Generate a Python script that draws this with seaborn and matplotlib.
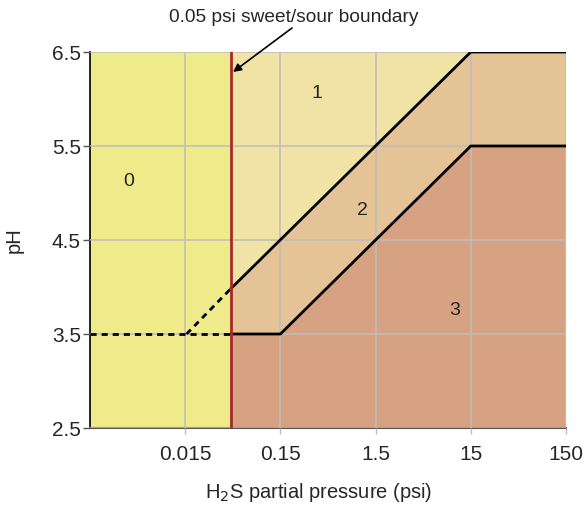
import numpy as np
import pandas as pd
import matplotlib
matplotlib.use("Agg")
import matplotlib.pyplot as plt
import seaborn as sns

# ---- data ----
x_ticks = [0.015, 0.15, 1.5, 15, 150]
x_tick_labels = ["0.015", "0.15", "1.5", "15", "150"]
y_ticks = [2.5, 3.5, 4.5, 5.5, 6.5]
x_min, x_max = 0.0015, 150
y_min, y_max = 2.5, 6.5
boundary_x = 0.045

upper_x = [0.045, 15, 150]
upper_y = [3.98, 6.5, 6.5]
lower_x = [0.045, 0.15, 15, 150]
lower_y = [3.5, 3.5, 5.5, 5.5]
dash_h_x = [0.0015, 0.045]
dash_h_y = [3.5, 3.5]
dash_d_x = [0.0155, 0.045]
dash_d_y = [3.5, 3.98]

region_labels = ["0", "1", "2", "3"]
region_label_x = [0.0038, 0.36, 1.1, 10.2]
region_label_y = [5.12, 6.06, 4.81, 3.75]
region_colors = ["#EFEA8A", "#F1E3A6", "#E4C496", "#D7A282"]

sns.set_style("white")
plt.rcParams["font.family"] = ["Liberation Sans", "DejaVu Sans"]

fig = plt.figure(figsize=(5.84, 5.05), dpi=100)
ax = fig.add_axes([90/584, 1-428/505, (566-90)/584, (428-52)/505])
ax.set_xscale("log")
ax.set_xlim(x_min, x_max)
ax.set_ylim(y_min, y_max)

# regions
ax.fill([x_min, boundary_x, boundary_x, x_min], [y_min, y_min, y_max, y_max],
        color=region_colors[0], lw=0, zorder=0)
ax.fill(upper_x + [x_max, boundary_x], upper_y + [y_max, y_max],
        color=region_colors[1], lw=0, zorder=0)
ax.fill(upper_x + lower_x[::-1], upper_y + lower_y[::-1],
        color=region_colors[2], lw=0, zorder=0)
ax.fill(lower_x + [x_max, boundary_x], lower_y + [y_min, y_min],
        color=region_colors[3], lw=0, zorder=0)

# grid
ax.set_xticks(x_ticks)
ax.set_xticklabels(x_tick_labels)
ax.xaxis.set_minor_locator(matplotlib.ticker.NullLocator())
ax.set_yticks(y_ticks)
ax.set_yticklabels([f"{v:.1f}" for v in y_ticks])
ax.grid(True, color="#BDBDBD", lw=1.1, zorder=1)
ax.set_axisbelow(False)

# lines
sns.lineplot(x=upper_x, y=upper_y, ax=ax, color="black", lw=2, zorder=3, sort=False)
sns.lineplot(x=lower_x, y=lower_y, ax=ax, color="black", lw=2, zorder=3, sort=False)
sns.lineplot(x=dash_h_x, y=dash_h_y, ax=ax, color="black", lw=2, zorder=3,
             linestyle=(0, (2.2, 1.8)), sort=False)
sns.lineplot(x=dash_d_x, y=dash_d_y, ax=ax, color="black", lw=2, zorder=3,
             linestyle=(0, (2.2, 1.8)), sort=False)
ax.axvline(boundary_x, color="#A52A2A", lw=2, zorder=4)

for lab, lx, ly in zip(region_labels, region_label_x, region_label_y):
    ax.text(lx, ly, lab, fontsize=14, ha="center", va="center", zorder=5)

fig.text(294/584, 1-17/505, "0.05 psi sweet/sour boundary", fontsize=13.8,
         ha="center", va="center")
ax.annotate("", xy=(233, 505-72), xycoords="figure pixels",
            xytext=(292, 505-28), textcoords="figure pixels",
            arrowprops=dict(arrowstyle="-|>", color="black", lw=1.2,
                            shrinkA=0, shrinkB=0, mutation_scale=12))

ax.set_xlabel("H$_2$S partial pressure (psi)", fontsize=14.5)
ax.xaxis.set_label_coords((319-90)/476, -(481-428)/376)
ax.set_ylabel("pH", fontsize=14.5)
ax.yaxis.set_label_coords(-(90-24)/476, 0.5)

for s in ["top", "right"]:
    ax.spines[s].set_visible(False)
ax.spines["left"].set_color("black")
ax.spines["left"].set_linewidth(1.2)
ax.spines["bottom"].set_color("#555555")
ax.spines["bottom"].set_linewidth(1.5)
ax.tick_params(axis="y", which="major", length=5, width=1.0, color="#555555",
               direction="out", labelsize=15, pad=1.5, left=True)
ax.tick_params(axis="x", which="major", length=4, width=1.0, color="#BDBDBD",
               direction="out", labelsize=15, pad=8, bottom=True)

fig.savefig("out.png", dpi=100)
